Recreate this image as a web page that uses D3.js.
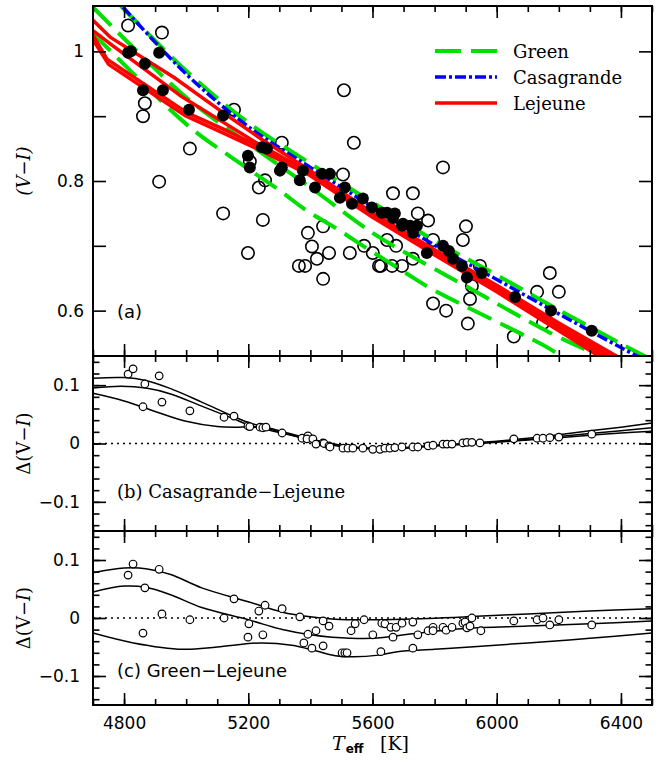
<!DOCTYPE html>
<html><head><meta charset="utf-8">
<script src="https://cdn.jsdelivr.net/npm/d3@7"></script>
<style>body{margin:0;background:#fff}svg{display:block}</style>
</head><body>
<svg id="chart" width="670" height="762"></svg>
<script>
// ---------- data ----------
const teffDomain = [4700, 6500];
const vmiDomain = [0.53, 1.07];
const deltaDomain = [-0.15, 0.15];

const teffMajorTicks = [4800, 5200, 5600, 6000, 6400];
const teffMinorTicks = d3.range(4700, 6501, 100);
const vmiTicks = [0.6, 0.7, 0.8, 0.9, 1.0];
const vmiTickLabels = [0.6, 0.8, 1];
const deltaMajorTicks = [-0.1, 0, 0.1];
const deltaMinorTicks = d3.range(-0.14, 0.141, 0.02);

// stars without a good abundance (open) and with (filled): [Teff, V-I]
const openStars = [
  [4813,1.040],[4922,1.029],[4867,0.920],[4861,0.900],[5154,0.910],[5012,0.850],
  [4913,0.799],[5508,0.940],[5540,0.859],[5308,0.859],[5505,0.810],[5827,0.821],
  [5119,0.750],[5247,0.740],[5199,0.689],[5205,0.830],[5254,0.801],[5234,0.790],
  [5392,0.720],[5441,0.730],[5405,0.699],[5460,0.689],[5421,0.680],[5363,0.669],
  [5383,0.669],[5441,0.649],[5527,0.689],[5573,0.700],[5601,0.689],[5621,0.669],
  [5666,0.781],[5730,0.781],[5746,0.750],[5779,0.739],[5647,0.709],[5676,0.700],
  [5627,0.669],[5663,0.669],[5695,0.669],[5730,0.680],[5795,0.709],[5901,0.730],
  [5891,0.709],[5946,0.669],[5920,0.638],[5914,0.618],[5795,0.611],[5837,0.600],
  [5907,0.580],[6055,0.560],[6130,0.629],[6171,0.658],[6200,0.629],[6149,0.581]
];
const filledStars = [
  [4813,0.998],[4822,1.000],[4913,0.998],[4867,0.981],[4861,0.940],[4925,0.940],
  [5009,0.910],[5119,0.901],[5199,0.839],[5244,0.852],[5260,0.850],[5205,0.821],
  [5308,0.821],[5366,0.801],[5376,0.816],[5437,0.811],[5463,0.811],[5511,0.790],
  [5495,0.774],[5534,0.765],[5569,0.773],[5598,0.759],[5630,0.751],[5647,0.751],
  [5672,0.750],[5695,0.731],[5721,0.731],[5743,0.731],[5730,0.720],[5775,0.689],
  [5827,0.700],[5846,0.692],[5859,0.680],[5888,0.669],[5904,0.651],[5952,0.658],
  [6059,0.621],[6175,0.600],[6306,0.569],[5415,0.790],[5666,0.743],[5698,0.734],
  [5302,0.816]
];

// model colour-temperature relations: [Teff, V-I]
const greenUpper = [[4790,1.070],[5000,0.970],[5200,0.890],[5400,0.827],[5600,0.767],[5800,0.708],[6000,0.655],[6200,0.601],[6400,0.549],[6500,0.524]];
const greenMiddle = [[4700,1.068],[4842,1.000],[5012,0.924],[5200,0.858],[5400,0.790],[5600,0.720],[5711,0.688],[5900,0.638],[6171,0.566],[6332,0.530],[6400,0.516]];
const greenLower = [[4697,1.029],[4842,0.960],[5012,0.883],[5199,0.819],[5302,0.785],[5389,0.754],[5486,0.726],[5582,0.696],[5711,0.657],[5785,0.635],[6171,0.541],[6204,0.530],[6250,0.518]];
const casagrande = [[4797,1.068],[5000,0.965],[5200,0.884],[5400,0.821],[5600,0.760],[5800,0.701],[6000,0.648],[6200,0.595],[6400,0.543],[6500,0.518]];
const lejeune1 = [[4700,1.048],[4755,1.022],[4960,0.960],[5120,0.905],[5250,0.862],[5400,0.816],[5600,0.751],[5800,0.694],[6000,0.639],[6200,0.581],[6400,0.526],[6450,0.513]];
const lejeune2 = [[4700,1.032],[4760,1.010],[4980,0.932],[5240,0.855],[5400,0.813],[5600,0.749],[5800,0.691],[6000,0.636],[6200,0.577],[6400,0.520]];
const lejeune3 = [[4700,1.025],[4745,0.988],[5000,0.906],[5120,0.880],[5240,0.852],[5400,0.810],[5600,0.746],[5800,0.688],[6000,0.632],[6200,0.573],[6400,0.514]];
const lejeune4 = [[4700,1.018],[4750,0.980],[5000,0.900],[5120,0.874],[5240,0.847],[5400,0.808],[5600,0.744],[5800,0.686],[6000,0.629],[6200,0.569],[6400,0.508]];

// Casagrande - Lejeune differences
const casDiffStars = [
  [4813,0.119],[4829,0.128],[4913,0.116],[4867,0.102],[4861,0.063],[4922,0.071],
  [5012,0.056],[5122,0.045],[5154,0.047],[5199,0.030],[5205,0.029],[5238,0.028],
  [5247,0.027],[5257,0.028],[5309,0.018],[5373,0.009],[5392,0.013],[5389,0.008],
  [5408,0.008],[5418,-0.001],[5441,0.001],[5444,0.000],[5460,-0.004],[5463,-0.006],
  [5505,-0.008],[5521,-0.008],[5537,-0.008],[5569,-0.008],[5601,-0.010],[5624,-0.010],
  [5640,-0.008],[5656,-0.008],[5672,-0.007],[5695,-0.006],[5730,-0.006],[5746,-0.006],
  [5779,-0.004],[5795,-0.003],[5827,-0.001],[5840,-0.001],[5856,-0.001],[5891,0.001],
  [5904,0.002],[5920,0.002],[5946,0.001],[6055,0.008],[6130,0.009],[6149,0.009],
  [6171,0.010],[6200,0.011],[6306,0.016]
];
const casDiffUpper = [[4700,0.112],[4800,0.113],[4870,0.108],[4950,0.094],[5050,0.071],[5150,0.047],[5200,0.036],[5300,0.022],[5400,0.008],[5500,-0.003],[5600,-0.008],[5700,-0.007],[5800,-0.003],[5900,0.000],[6000,0.004],[6100,0.009],[6200,0.015],[6300,0.022],[6400,0.028],[6500,0.035]];
const casDiffMiddle = [[4700,0.095],[4790,0.098],[4870,0.095],[4950,0.085],[5050,0.064],[5150,0.043],[5200,0.032],[5300,0.019],[5400,0.007],[5500,-0.004],[5600,-0.009],[5700,-0.008],[5800,-0.004],[5900,-0.001],[6000,0.003],[6100,0.007],[6200,0.012],[6300,0.017],[6400,0.022],[6500,0.027]];
const casDiffLower = [[4700,0.086],[4800,0.073],[4900,0.055],[5000,0.038],[5100,0.029],[5200,0.028],[5250,0.027],[5300,0.020],[5400,0.006],[5500,-0.005],[5600,-0.009],[5700,-0.008],[5800,-0.004],[5900,-0.001],[6000,0.002],[6100,0.006],[6200,0.010],[6300,0.014],[6400,0.018],[6500,0.021]];

// Green - Lejeune differences
const greenDiffStars = [
  [4813,0.074],[4829,0.093],[4913,0.084],[4867,0.052],[4861,-0.026],[4922,0.007],
  [5012,-0.003],[5122,0.000],[5154,0.033],[5202,-0.010],[5199,-0.033],[5234,0.012],
  [5254,0.022],[5247,-0.029],[5309,0.016],[5366,0.002],[5379,-0.043],[5392,-0.028],
  [5405,-0.052],[5418,-0.022],[5441,-0.005],[5441,-0.048],[5460,-0.014],
  [5502,-0.060],[5511,-0.060],[5518,-0.060],[5531,-0.022],[5544,-0.010],[5573,-0.003],
  [5601,-0.029],[5627,-0.058],[5630,-0.009],[5640,-0.010],[5659,-0.016],[5666,-0.033],
  [5676,-0.016],[5695,-0.009],[5730,-0.007],[5730,-0.052],[5746,-0.029],[5779,-0.022],
  [5795,-0.016],[5795,-0.022],[5827,-0.016],[5837,-0.021],[5856,-0.016],[5891,-0.009],
  [5898,-0.007],[5904,-0.017],[5914,-0.014],[5920,0.000],[5949,-0.022],[6055,-0.005],
  [6130,-0.003],[6149,0.000],[6171,-0.012],[6200,-0.003],[6306,-0.012]
];
const greenDiffUpper = [[4700,0.078],[4800,0.086],[4870,0.085],[4950,0.075],[5050,0.052],[5200,0.028],[5310,0.010],[5400,0.002],[5480,-0.002],[5570,-0.003],[5700,-0.002],[5900,0.002],[6100,0.007],[6300,0.012],[6500,0.016]];
const greenDiffMiddle = [[4700,0.045],[4800,0.055],[4870,0.053],[4950,0.040],[5050,0.018],[5200,-0.003],[5310,-0.020],[5400,-0.029],[5470,-0.033],[5600,-0.035],[5730,-0.027],[5900,-0.018],[6100,-0.014],[6300,-0.010],[6500,-0.005]];
const greenDiffLower = [[4700,-0.026],[4830,-0.043],[4990,-0.054],[5100,-0.050],[5240,-0.043],[5340,-0.047],[5420,-0.057],[5480,-0.065],[5540,-0.067],[5620,-0.064],[5680,-0.058],[5800,-0.054],[5914,-0.050],[6100,-0.043],[6300,-0.035],[6500,-0.026]];

const legendEntries = [
  {name: "Green", color: "#00e000", dash: "26,10", width: 4},
  {name: "Casagrande", color: "#0000ff", dash: "11,3,3,3", width: 3.5},
  {name: "Lejeune", color: "#ff0000", dash: null, width: 3.5}
];

// ---------- layout ----------
const svg = d3.select("#chart");
const L = 93, R = 652;
const x = d3.scaleLinear().domain(teffDomain).range([L, R]);
const panels = {
  a: {top: 6, bottom: 356},
  b: {top: 356, bottom: 531},
  c: {top: 531, bottom: 705}
};
const yA = d3.scaleLinear().domain(vmiDomain).range([panels.a.bottom, panels.a.top]);
const yB = d3.scaleLinear().domain(deltaDomain).range([panels.b.bottom, panels.b.top]);
const yC = d3.scaleLinear().domain(deltaDomain).range([panels.c.bottom, panels.c.top]);

const sansFont = "'DejaVu Sans', sans-serif";
const serifFont = "'DejaVu Serif', serif";

const defs = svg.append("defs");
Object.entries(panels).forEach(([k, p]) => {
  defs.append("clipPath").attr("id", "clip-" + k)
    .append("rect").attr("x", L).attr("y", p.top).attr("width", R - L).attr("height", p.bottom - p.top);
});

function styleAxis(g) {
  g.select(".domain").remove();
  g.selectAll(".tick line").attr("stroke", "#000").attr("stroke-width", 1.6);
  g.selectAll(".tick text").attr("font-family", sansFont).attr("font-size", 17).attr("fill", "#000");
}

function drawTeffTicks(p, showLabels) {
  svg.append("g").attr("transform", `translate(0,${p.bottom})`)
    .call(d3.axisBottom(x).tickValues(teffMinorTicks).tickSize(-6).tickFormat("")).call(styleAxis);
  svg.append("g").attr("transform", `translate(0,${p.bottom})`)
    .call(d3.axisBottom(x).tickValues(teffMajorTicks).tickSize(-12).tickPadding(12)
      .tickFormat(showLabels ? d3.format("d") : "")).call(styleAxis);
  svg.append("g").attr("transform", `translate(0,${p.top})`)
    .call(d3.axisTop(x).tickValues(teffMinorTicks).tickSize(-6).tickFormat("")).call(styleAxis);
  svg.append("g").attr("transform", `translate(0,${p.top})`)
    .call(d3.axisTop(x).tickValues(teffMajorTicks).tickSize(-12).tickFormat("")).call(styleAxis);
}

function drawFrame(p) {
  svg.append("rect").attr("x", L).attr("y", p.top).attr("width", R - L).attr("height", p.bottom - p.top)
    .attr("fill", "none").attr("stroke", "#000").attr("stroke-width", 2);
}

const modelLine = d3.line().x(d => x(d[0])).y(d => yA(d[1]));

// ---------- panel (a) ----------
const gA = svg.append("g").attr("clip-path", "url(#clip-a)");
gA.selectAll("circle.open").data(openStars).join("circle").attr("class", "open")
  .attr("cx", d => x(d[0])).attr("cy", d => yA(d[1])).attr("r", 6.2)
  .attr("fill", "none").attr("stroke", "#000").attr("stroke-width", 1.6);

const greenStyle = legendEntries[0], casStyle = legendEntries[1], lejStyle = legendEntries[2];
[greenUpper, greenMiddle, greenLower].forEach(line => {
  gA.append("path").datum(line)
    .attr("d", modelLine.curve(d3.curveCatmullRom.alpha(0.5)))
    .attr("fill", "none").attr("stroke", greenStyle.color).attr("stroke-width", greenStyle.width)
    .attr("stroke-dasharray", greenStyle.dash);
});
gA.append("path").datum(casagrande)
  .attr("d", modelLine.curve(d3.curveCatmullRom.alpha(0.5)))
  .attr("fill", "none").attr("stroke", casStyle.color).attr("stroke-width", casStyle.width)
  .attr("stroke-dasharray", casStyle.dash);
[lejeune1, lejeune2, lejeune3, lejeune4].forEach(line => {
  gA.append("path").datum(line)
    .attr("d", modelLine.curve(d3.curveLinear))
    .attr("fill", "none").attr("stroke", lejStyle.color).attr("stroke-width", lejStyle.width)
    .attr("stroke-linejoin", "round");
});

gA.selectAll("circle.filled").data(filledStars).join("circle").attr("class", "filled")
  .attr("cx", d => x(d[0])).attr("cy", d => yA(d[1])).attr("r", 6)
  .attr("fill", "#000");

drawTeffTicks(panels.a, false);
svg.append("g").attr("transform", `translate(${L},0)`)
  .call(d3.axisLeft(yA).tickValues(vmiTicks).tickSize(-13).tickPadding(9)
    .tickFormat(d => vmiTickLabels.some(v => Math.abs(v - d) < 1e-9) ? d3.format("~g")(d) : ""))
  .call(styleAxis);
svg.append("g").attr("transform", `translate(${R},0)`)
  .call(d3.axisRight(yA).tickValues(vmiTicks).tickSize(-13).tickFormat("")).call(styleAxis);
drawFrame(panels.a);

// legend
const legend = svg.append("g");
legendEntries.forEach((e, i) => {
  const ly = 51 + i * 26;
  legend.append("line").attr("x1", 435).attr("x2", 497).attr("y1", ly).attr("y2", ly)
    .attr("stroke", e.color).attr("stroke-width", e.width)
    .attr("stroke-dasharray", e.dash);
  legend.append("text").attr("x", 513).attr("y", ly + 7)
    .attr("font-family", serifFont).attr("font-size", 18).text(e.name);
});

svg.append("text").attr("x", 117).attr("y", 318)
  .attr("font-family", sansFont).attr("font-size", 18).text("(a)");

// ---------- difference panels ----------
function drawDiffPanel(key, y, stars, bands, label, labelFont) {
  const p = panels[key];
  const g = svg.append("g").attr("clip-path", `url(#clip-${key})`);
  g.append("line").attr("x1", L).attr("x2", R).attr("y1", y(0)).attr("y2", y(0))
    .attr("stroke", "#000").attr("stroke-width", 1.4).attr("stroke-dasharray", "2,4");
  const band = d3.line().x(d => x(d[0])).y(d => y(d[1])).curve(d3.curveCatmullRom.alpha(0.5));
  bands.forEach(b => {
    g.append("path").datum(b).attr("d", band)
      .attr("fill", "none").attr("stroke", "#000").attr("stroke-width", 1.5);
  });
  g.selectAll("circle").data(stars).join("circle")
    .attr("cx", d => x(d[0])).attr("cy", d => y(d[1])).attr("r", 3.8)
    .attr("fill", "#fff").attr("stroke", "#000").attr("stroke-width", 1.2);

  svg.append("g").attr("transform", `translate(${L},0)`)
    .call(d3.axisLeft(y).tickValues(deltaMinorTicks).tickSize(-6.5).tickFormat("")).call(styleAxis);
  svg.append("g").attr("transform", `translate(${L},0)`)
    .call(d3.axisLeft(y).tickValues(deltaMajorTicks).tickSize(-13).tickPadding(13)
      .tickFormat(d => d === 0 ? "0" : d3.format(".1f")(d).replace("-", "\u2212"))).call(styleAxis);
  svg.append("g").attr("transform", `translate(${R},0)`)
    .call(d3.axisRight(y).tickValues(deltaMinorTicks).tickSize(-6.5).tickFormat("")).call(styleAxis);
  svg.append("g").attr("transform", `translate(${R},0)`)
    .call(d3.axisRight(y).tickValues(deltaMajorTicks).tickSize(-13).tickFormat("")).call(styleAxis);
  drawTeffTicks(p, key === "c");
  drawFrame(p);

  svg.append("text").attr("x", 117).attr("y", key === "b" ? 498 : 677)
    .attr("font-family", labelFont).attr("font-size", 18).text(label);

  const t = svg.append("text").attr("transform", `translate(30,${(p.top + p.bottom) / 2}) rotate(-90)`)
    .attr("text-anchor", "middle").attr("font-family", serifFont).attr("font-size", 18);
  t.append("tspan").text("\u0394(V\u2212");
  t.append("tspan").attr("font-style", "italic").text("I");
  t.append("tspan").text(")");
}

drawDiffPanel("b", yB, casDiffStars, [casDiffUpper, casDiffMiddle, casDiffLower],
  "(b) Casagrande\u2212Lejeune", serifFont);
drawDiffPanel("c", yC, greenDiffStars, [greenDiffUpper, greenDiffMiddle, greenDiffLower],
  "(c) Green\u2212Lejeune", sansFont);

// axis titles
svg.append("text").attr("transform", `translate(30,${(panels.a.top + panels.a.bottom) / 2 - 10}) rotate(-90)`)
  .attr("text-anchor", "middle").attr("font-family", serifFont).attr("font-size", 18)
  .attr("font-style", "italic").text("(V\u2212I)");

const xt = svg.append("text").attr("x", 332).attr("y", 750).attr("font-family", serifFont).attr("font-size", 19);
xt.append("tspan").attr("font-style", "italic").text("T");
xt.append("tspan").attr("font-family", sansFont).attr("font-weight", "bold").attr("font-size", 12)
  .attr("dy", 3).attr("dx", 1).text("eff");
xt.append("tspan").attr("x", 380).attr("dy", -3).text("[K]");
</script>
</body></html>
